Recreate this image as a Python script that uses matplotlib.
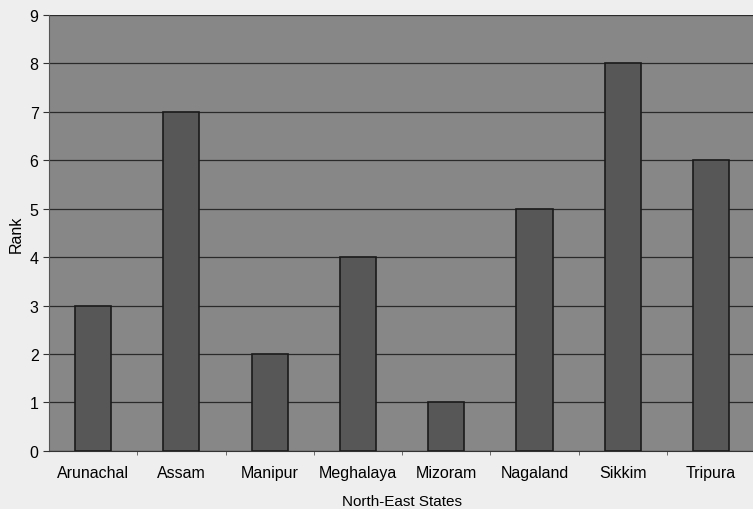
import matplotlib
matplotlib.use("Agg")
import matplotlib.pyplot as plt
import numpy as np

# Daten
states = ["Arunachal", "Assam", "Manipur", "Meghalaya", "Mizoram",
          "Nagaland", "Sikkim", "Tripura"]
ranks = [3, 7, 2, 4, 1, 5, 8, 6]

plt.rcParams["font.family"] = ["Liberation Sans", "DejaVu Sans"]

fig = plt.figure(figsize=(7.53, 5.10), dpi=100, facecolor="#eeeeee")
ax = fig.add_axes([0.065, 0.114, 0.938, 0.855])
ax.set_facecolor("#878787")

x = np.arange(len(states))
ax.bar(x, ranks, width=0.41, color="#575757", edgecolor="#1a1a1a",
       linewidth=1.2, zorder=3)

ax.set_xlim(-0.5, 7.5)
ax.set_ylim(0, 9)
ax.set_yticks(range(0, 10))
ax.yaxis.grid(True, color="#2a2a2a", linewidth=0.9, zorder=1)

ax.set_xticks(x)
ax.set_xticklabels(states, fontsize=11.5)
ax.set_xticks(np.arange(0.5, 7.5, 1), minor=True)
ax.tick_params(axis="x", which="major", length=0, pad=10)
ax.tick_params(axis="x", which="minor", length=3, color="#555555")
ax.tick_params(axis="y", labelsize=11.5, length=4, color="#333333")

for s in ["top", "right"]:
    ax.spines[s].set_visible(False)
ax.spines["left"].set_color("#555555")
ax.spines["bottom"].set_color("#333333")

ax.set_xlabel("North-East States", fontsize=11, labelpad=10)
ax.set_ylabel("Rank", fontsize=11.5, labelpad=4)

plt.savefig("out.png", dpi=100, facecolor=fig.get_facecolor())
